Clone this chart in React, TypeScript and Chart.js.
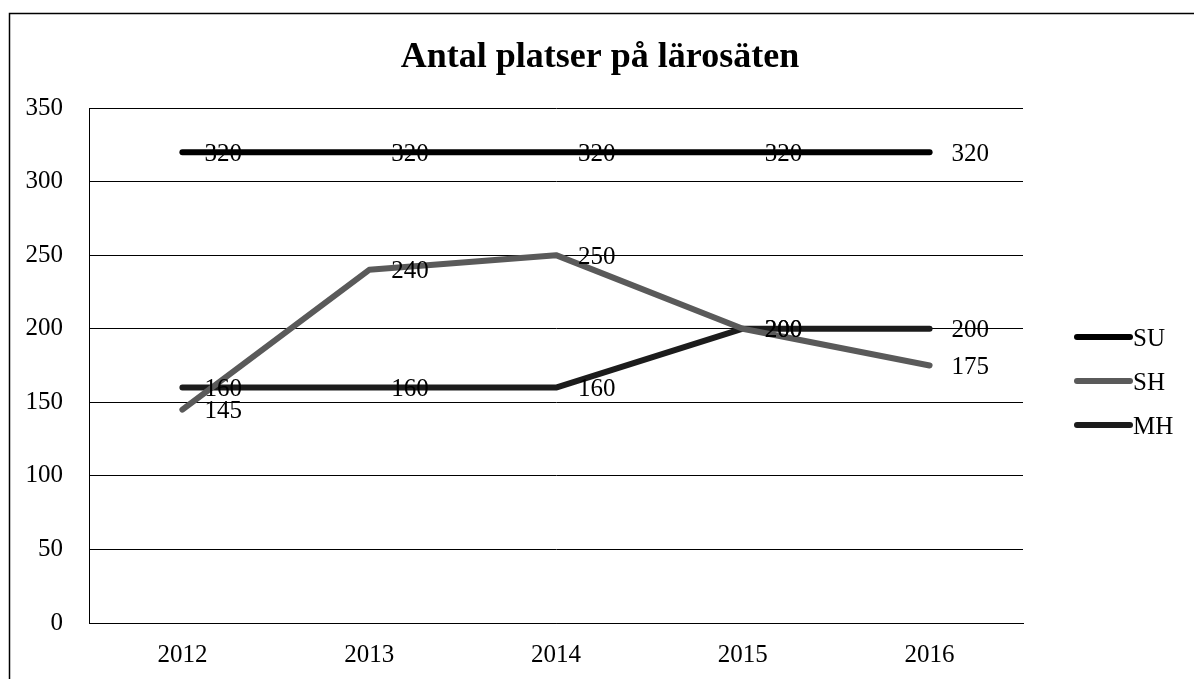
import React, { useEffect, useRef } from "react";
import { Chart, registerables } from "chart.js";

Chart.register(...registerables);

const TITLE = "Antal platser på lärosäten";
const YEARS = ["2012", "2013", "2014", "2015", "2016"];
const SU = [320, 320, 320, 320, 320];
const SH = [145, 240, 250, 200, 175];
const MH = [160, 160, 160, 200, 200];
const SERIES_NAMES = ["SU", "SH", "MH"];
const SERIES_COLORS = ["#000000", "#5a5a5a", "#1c1c1c"];
const FONT = "'Liberation Serif', 'Times New Roman', serif";

const extrasPlugin = {
  id: "extras",
  beforeDraw(chart: any) {
    const ctx = chart.ctx;
    ctx.save();
    ctx.fillStyle = "#ffffff";
    ctx.fillRect(0, 0, chart.width, chart.height);
    ctx.strokeStyle = "#000";
    ctx.lineWidth = 1.5;
    ctx.strokeRect(9.5, 13.5, chart.width + 20, chart.height + 20);
    ctx.restore();
  },
  afterDraw(chart: any) {
    const ctx = chart.ctx;
    ctx.save();
    // title
    ctx.fillStyle = "#000";
    ctx.font = `bold 36px ${FONT}`;
    ctx.textAlign = "center";
    ctx.textBaseline = "middle";
    ctx.fillText(TITLE, 600, 58);
    // data labels
    ctx.font = `25px ${FONT}`;
    ctx.textAlign = "left";
    ctx.textBaseline = "middle";
    chart.data.datasets.forEach((ds: any, i: number) => {
      const meta = chart.getDatasetMeta(i);
      meta.data.forEach((pt: any, j: number) => {
        ctx.fillText(String(ds.data[j]), pt.x + 22, pt.y + 2);
      });
    });
    // legend
    chart.data.datasets.forEach((ds: any, i: number) => {
      const y = 337 + i * 44;
      ctx.strokeStyle = ds.borderColor;
      ctx.lineWidth = 6;
      ctx.lineCap = "round";
      ctx.beginPath();
      ctx.moveTo(1077, y);
      ctx.lineTo(1130, y);
      ctx.stroke();
      ctx.fillStyle = "#000";
      ctx.fillText(ds.label, 1133, y + 2);
    });
    ctx.restore();
  },
};

export default function App() {
  const ref = useRef<HTMLCanvasElement | null>(null);
  useEffect(() => {
    if (!ref.current) return;
    const values = [SU, SH, MH];
    const chart = new Chart(ref.current, {
      type: "line",
      data: {
        labels: YEARS,
        datasets: SERIES_NAMES.map((name, i) => ({
          label: name,
          data: values[i],
          borderColor: SERIES_COLORS[i],
          backgroundColor: SERIES_COLORS[i],
          borderWidth: 6,
          borderCapStyle: "round" as const,
          borderJoinStyle: "round" as const,
          pointRadius: 0,
          tension: 0,
        })),
      },
      options: {
        responsive: false,
        animation: false,
        layout: { padding: { top: 108, right: 171, left: 0, bottom: 0 } },
        plugins: {
          legend: { display: false },
          title: { display: false },
          tooltip: { enabled: false },
        },
        scales: {
          x: {
            offset: true,
            grid: { display: false, drawTicks: false },
            border: { display: true, color: "#000", width: 1 },
            ticks: { color: "#000", font: { family: FONT, size: 25 }, padding: 17 },
            afterFit: (s: any) => { s.height = 56; },
          },
          y: {
            min: 0,
            max: 350,
            ticks: { stepSize: 50, color: "#000", font: { family: FONT, size: 25 }, padding: 26 },
            grid: { color: "#000", lineWidth: 1, drawTicks: false },
            border: { display: true, color: "#000", width: 1 },
            afterFit: (s: any) => { s.width = 89; },
          },
        },
      },
      plugins: [extrasPlugin],
    });
    return () => chart.destroy();
  }, []);
  return (
    <div style={{ position: "fixed", left: 0, top: 0, width: 1194, height: 679, background: "#fff" }}>
      <canvas ref={ref} width={1194} height={679} style={{ display: "block" }} />
    </div>
  );
}
